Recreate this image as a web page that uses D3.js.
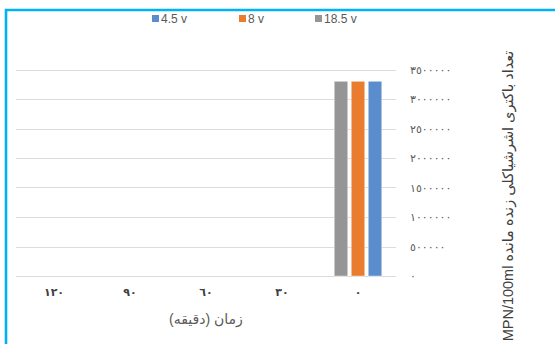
<!DOCTYPE html>
<html><head><meta charset="utf-8">
<script src="https://cdn.jsdelivr.net/npm/d3@7"></script>
<style>
html,body{margin:0;padding:0;background:#fff;}
svg{display:block;}
text{font-family:"Liberation Sans","DejaVu Sans",sans-serif;}
</style></head>
<body>
<svg id="chart" width="555" height="344"></svg>
<script>
// categories (time in minutes), drawn right-to-left
const categories = ["0", "30", "60", "90", "120"];
const seriesNames = ["4.5 v", "8 v", "18.5 v"];
const series45 = [3300000, 0, 0, 0, 0];
const series8 = [3300000, 0, 0, 0, 0];
const series185 = [3300000, 0, 0, 0, 0];
const seriesColors = ["#5b8ccd", "#e97c2e", "#959595"];
const yTicks = [0, 500000, 1000000, 1500000, 2000000, 2500000, 3000000, 3500000];
const xTitle = "زمان (دقیقه)";
const yTitle = "تعداد باکتری اشرشیاکلی زنده مانده MPN/100ml";

const seriesValues = [series45, series8, series185];
const fa = s => String(s).replace(/[0-9]/g, d => "٠١٢٣٤٥٦٧٨٩"[+d]);

const svg = d3.select("#chart");

// frame
svg.append("path").attr("d", "M6,344 V10 H555").attr("fill", "none")
  .attr("stroke", "#00b2f0").attr("stroke-width", 2.6);

const x = d3.scaleBand().domain(categories.slice().reverse()).range([16, 396]).padding(0);
const x1 = d3.scaleBand().domain(seriesNames.slice().reverse()).range([0, x.bandwidth()])
  .paddingInner(0.206).paddingOuter(0.838);
const y = d3.scaleLinear().domain([0, 3500000]).range([276, 69.5]);

// gridlines
svg.append("g").selectAll("line").data(yTicks).join("line")
  .attr("x1", 16).attr("x2", 396)
  .attr("y1", d => Math.round(y(d)) + 0.5).attr("y2", d => Math.round(y(d)) + 0.5)
  .attr("stroke", "#dcdcdc").attr("stroke-width", 1.2);

// y axis labels on the right
const yAxis = d3.axisRight(y).tickValues(yTicks).tickSize(0).tickPadding(0)
  .tickFormat(d => fa(d));
const gy = svg.append("g").attr("transform", "translate(410,0)").call(yAxis);
gy.select(".domain").remove();
gy.selectAll("text").attr("fill", "#595959").attr("font-size", 11)
  .attr("letter-spacing", "3px").attr("dy", "0.32em");

// x axis
const xAxis = d3.axisBottom(x).tickSize(0).tickPadding(0).tickFormat(d => fa(d));
const gx = svg.append("g").attr("transform", "translate(0,288)").call(xAxis);
gx.select(".domain").remove();
gx.selectAll("text").attr("fill", "#404040").attr("font-size", 11).attr("font-weight", "bold")
  .attr("letter-spacing", "1.5px").attr("dy", "0.7em");

// bars
const rows = categories.map((c, i) => ({ c, vals: seriesNames.map((s, j) => ({ s, v: seriesValues[j][i], col: seriesColors[j] })) }));
svg.append("g").selectAll("g").data(rows).join("g")
  .attr("transform", d => `translate(${x(d.c)},0)`)
  .selectAll("rect").data(d => d.vals.filter(v => v.v > 0)).join("rect")
  .attr("x", d => x1(d.s)).attr("width", x1.bandwidth())
  .attr("y", d => y(d.v)).attr("height", d => y(0) - y(d.v))
  .attr("fill", d => d.col).attr("stroke", "#ffffff").attr("stroke-opacity", 0.5).attr("stroke-width", 0.8);

// axis titles
svg.append("text").attr("x", 206).attr("y", 324).attr("text-anchor", "middle")
  .attr("fill", "#595959").attr("font-size", 14).attr("direction", "rtl").text(xTitle);
svg.append("text").attr("transform", "translate(513,196) rotate(-90)")
  .attr("text-anchor", "middle").attr("fill", "#404040").attr("font-size", 14.5)
  .attr("direction", "rtl").text(yTitle);

// legend
const legX = [152, 239, 315];
const leg = svg.append("g").selectAll("g").data(seriesNames).join("g")
  .attr("transform", (d, i) => `translate(${legX[i]},19)`);
leg.append("rect").attr("x", 0).attr("y", -4).attr("width", 7).attr("height", 7)
  .attr("fill", (d, i) => seriesColors[i]);
leg.append("text").attr("x", 9).attr("y", 0).attr("dy", "0.35em")
  .attr("font-size", 12).attr("fill", "#595959").text(d => d);
</script>
</body></html>
